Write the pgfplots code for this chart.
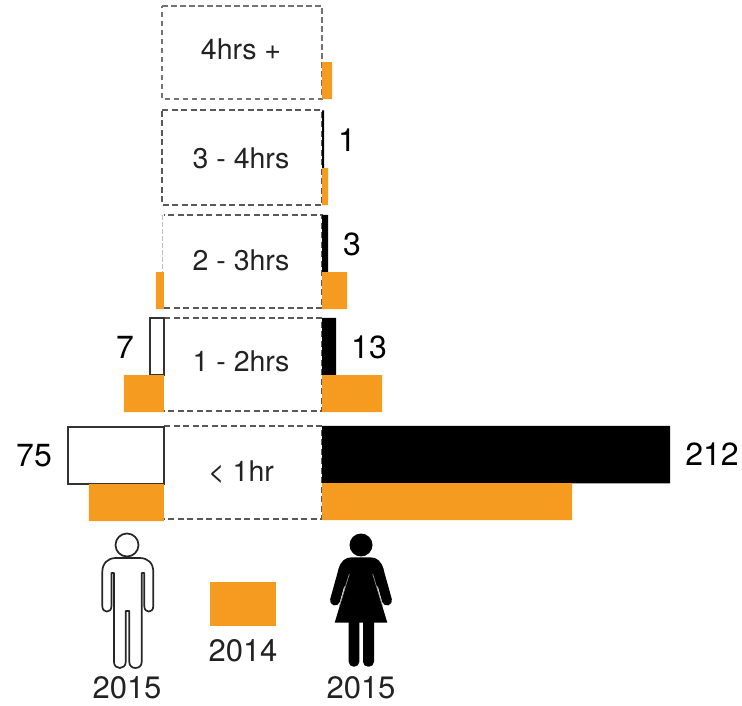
\documentclass[border=0pt]{standalone}
\usepackage{pgfplots}
\pgfplotsset{compat=1.18}
\usepackage{fontspec}
\setmainfont{TeX Gyre Heros}
\definecolor{bo}{HTML}{F49B20}
\definecolor{tx}{HTML}{222222}
\pgfplotsset{base/.style={scale only axis,width=742pt,height=705pt,hide axis,y dir=reverse,ymin=0,ymax=705,clip=false,axis line style={draw=none}}}
\newcommand{\fs}[1]{\fontsize{#1}{#1}\selectfont}
\begin{document}
\begin{tikzpicture}
\useasboundingbox (0,0) rectangle (742pt,705pt);
% frames, category names, value labels, legend swatch: axis in picture pixels
\begin{axis}[base,xmin=0,xmax=742]
\addplot[draw=black!55,dash pattern=on 5.5pt off 3.5pt,line width=1.4pt] coordinates {(162,6)(322,6)(322,99)(162,99)(162,6)};
\addplot[draw=black!65,dash pattern=on 6pt off 3.5pt,line width=1.4pt] coordinates {(162,110)(322,110)(322,205)(162,205)(162,110)};
\addplot[draw=black!65,dash pattern=on 6pt off 3.5pt,line width=1.4pt] coordinates {(164,308)(322,308)(322,215)(164,215)};
\addplot[draw=black!25,dash pattern=on 5pt off 2pt,line width=1pt] coordinates {(162,215)(162,272)};
\addplot[draw=black!65,dash pattern=on 6pt off 3.5pt,line width=1.4pt] coordinates {(164,318)(322,318)(322,411)(164,411)};
\addplot[draw=black!65,dash pattern=on 6pt off 3.5pt,line width=1.4pt] coordinates {(164,426)(322,426)(322,519)(164,519)};
\addplot[fill=bo,draw=none] coordinates {(210,582)(276,582)(276,626)(210,626)} -- cycle;
\node[text=tx,font=\fs{28.5}] at (axis cs:241,49) {4hrs +};
\node[text=tx,font=\fs{28.5}] at (axis cs:241,158) {3 - 4hrs};
\node[text=tx,font=\fs{28.5}] at (axis cs:241,260) {2 - 3hrs};
\node[text=tx,font=\fs{28.5}] at (axis cs:241,361) {1 - 2hrs};
\node[text=tx,font=\fs{28.5}] at (axis cs:241,472) {< 1hr};
\node[text=black,font=\fs{32}] at (axis cs:347,140) {1};
\node[text=black,font=\fs{32}] at (axis cs:352,244) {3};
\node[text=black,font=\fs{32}] at (axis cs:369,347) {13};
\node[text=black,font=\fs{32}] at (axis cs:712,454) {212};
\node[text=black,font=\fs{32}] at (axis cs:125,347) {7};
\node[text=black,font=\fs{32}] at (axis cs:34,456) {75};
\node[text=tx,font=\fs{31}] at (axis cs:243,651) {2014};
\node[text=tx,font=\fs{31}] at (axis cs:127,688) {2015};
\node[text=tx,font=\fs{31}] at (axis cs:361,688) {2015};
\end{axis}
% men: bars grow to the left from the frame edge
\begin{axis}[base,xmin=-578,xmax=164,x dir=reverse]
\addplot[xbar,bar shift=0pt,bar width=57pt,fill=white,draw=black!80,line width=1.3pt] coordinates {(96,455.5)(14,346.5)};
\addplot[xbar,bar shift=0pt,bar width=37pt,fill=bo,draw=none] coordinates {(75,502.5)(40,393.5)(8,290.5)};
\end{axis}
% women: bars grow to the right from the frame edge
\begin{axis}[base,xmin=-322,xmax=420]
\addplot[xbar,bar shift=0pt,bar width=57.5pt,fill=black,draw=none] coordinates {(348,454.5)(14,346.5)(6,243.5)(2,139)};
\addplot[xbar,bar shift=0pt,bar width=37pt,fill=bo,draw=none] coordinates {(250,501.5)(60,393.5)(25,290.5)(6,186.5)(10,80.5)};
\end{axis}
% figures
\begin{scope}[shift={(0pt,705pt)},x=1pt,y=-1pt]
\draw[black!85,line width=1.7pt,fill=white] (127,545) circle[radius=11.5];
\draw[black!85,line width=1.7pt,fill=white,line join=round]
 (102.3,572) .. controls (102.3,563) and (108,558) .. (116,558) -- (139.5,558)
 .. controls (148,558) and (153.3,563) .. (153.3,572) -- (153.3,606)
 .. controls (153.3,613.5) and (144.3,613.5) .. (144.3,606) -- (144.3,573) -- (141.7,573) -- (141.7,662)
 .. controls (141.7,670) and (129.3,670) .. (129.3,662) -- (129.3,611) -- (125.7,611) -- (125.7,662)
 .. controls (125.7,670) and (114,670) .. (114,662) -- (114,573) -- (111.5,573) -- (111.5,606)
 .. controls (111.5,613.5) and (102.3,613.5) .. (102.3,606) -- cycle;
\fill[black] (361,545) circle[radius=11.5];
\draw[black,line width=10pt,line cap=round] (343.5,570) -- (335,600.5);
\draw[black,line width=10pt,line cap=round] (378.5,570) -- (387,600.5);
\fill[black] (338.5,569) .. controls (341,561) and (345,557.3) .. (352,557.3) -- (370,557.3)
 .. controls (377,557.3) and (381,561) .. (383.5,569) -- (373,600) -- (349,600) -- cycle;
\fill[black] (334.7,622.7) -- (349.3,574) -- (372.7,574) -- (387.3,622.7) -- cycle;
\draw[black!45,line width=.7pt] (349.3,574) -- (339.5,606);
\draw[black!45,line width=.7pt] (372.7,574) -- (382.5,606);
\fill[black,rounded corners=5pt] (348.7,615) rectangle (359.3,666.7);
\fill[black,rounded corners=5pt] (363,615) rectangle (374,666.7);
\end{scope}
\end{tikzpicture}
\end{document}
